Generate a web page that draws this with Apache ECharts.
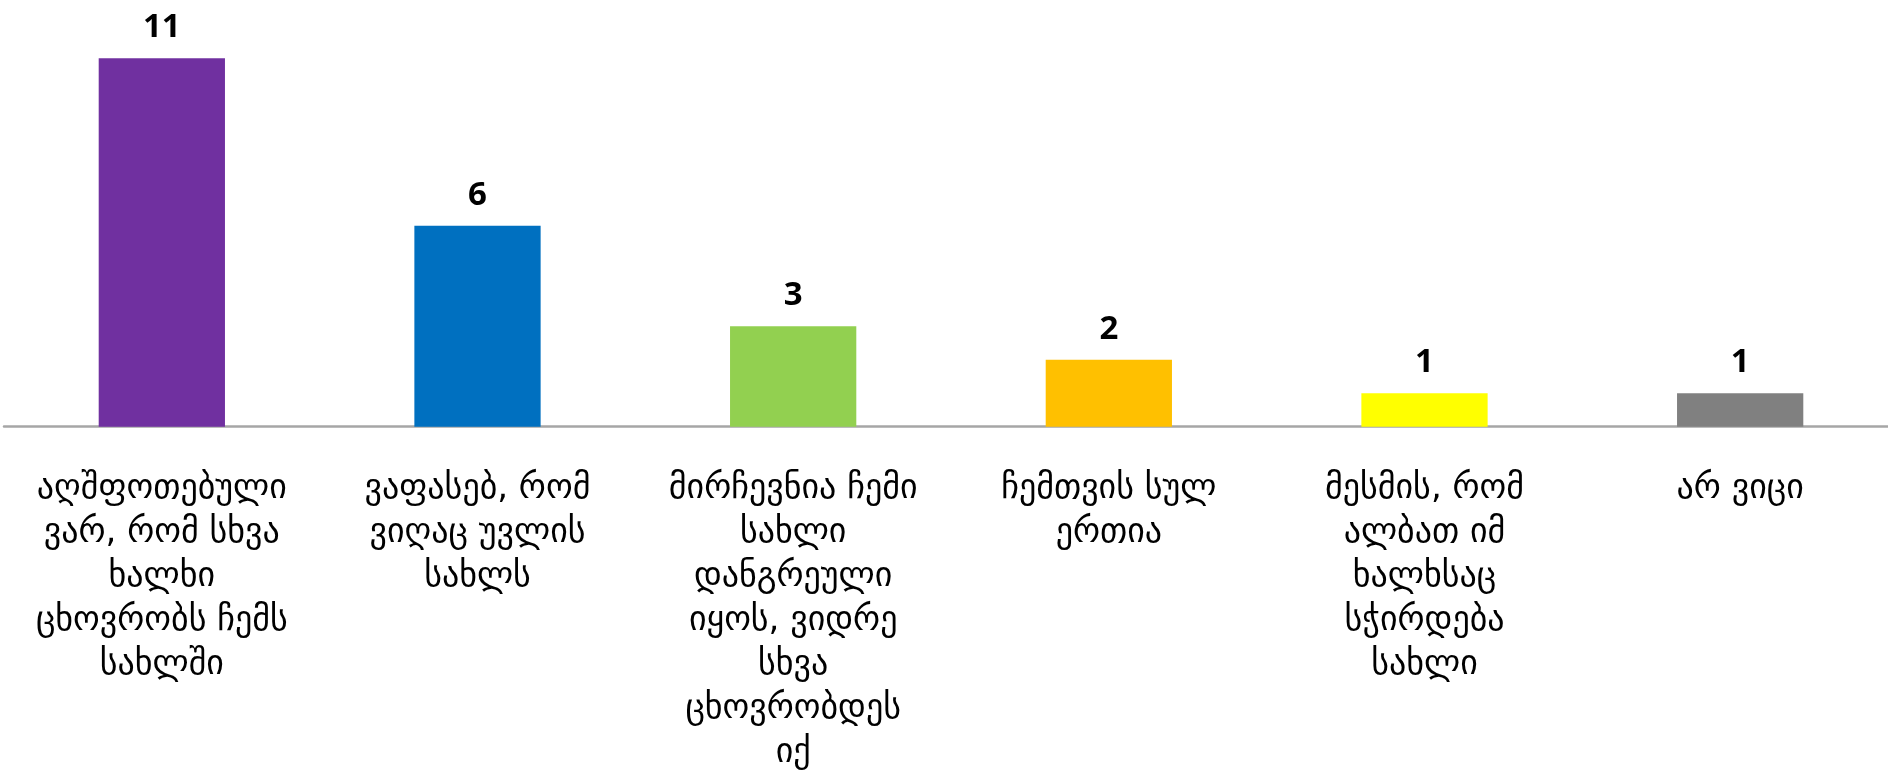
<!DOCTYPE html>
<html><head><meta charset="utf-8">
<script src="https://cdn.jsdelivr.net/npm/echarts@6/dist/echarts.min.js"></script>
<style>html,body{margin:0;padding:0;background:#fff}#c{width:1888px;height:775px}</style>
</head><body><div id="c"></div>
<script>
var categories = [
  "აღშფოთებული\nვარ, რომ სხვა\nხალხი\nცხოვრობს ჩემს\nსახლში",
  "ვაფასებ, რომ\nვიღაც უვლის\nსახლს",
  "მირჩევნია ჩემი\nსახლი\nდანგრეული\nიყოს, ვიდრე\nსხვა\nცხოვრობდეს\nიქ",
  "ჩემთვის სულ\nერთია",
  "მესმის, რომ\nალბათ იმ\nხალხსაც\nსჭირდება\nსახლი",
  "არ ვიცი"
];
var values = [11, 6, 3, 2, 1, 1];
var colors = ["#7030A0", "#0070C0", "#92D050", "#FFC000", "#FFFF00", "#808080"];

var chart = echarts.init(document.getElementById('c'));
chart.setOption({
  animation: false,
  grid: {left: 4, width: 1894, top: 24.7, bottom: 348.3, containLabel: false, outerBoundsMode: 'none'},
  xAxis: {
    type: 'category',
    data: categories,
    axisLine: {lineStyle: {color: '#A6A6A6', width: 2.5}},
    axisTick: {show: false},
    axisLabel: {
      interval: 0,
      margin: 40,
      fontFamily: 'DejaVu Sans',
      fontSize: 34,
      lineHeight: 44,
      color: '#000',
      verticalAlign: 'top'
    }
  },
  yAxis: {
    type: 'value', min: 0, max: 12, interval: 1,
    show: false,
    splitLine: {show: false}
  },
  series: [{
    type: 'bar',
    barWidth: '40%',
    data: values.map(function (v, i) { return {value: v, itemStyle: {color: colors[i]}}; }),
    label: {
      show: true, position: 'top', distance: 14,
      fontFamily: 'Open Sans', fontWeight: 'bold', fontSize: 33, color: '#000'
    }
  }]
});
</script></body></html>
